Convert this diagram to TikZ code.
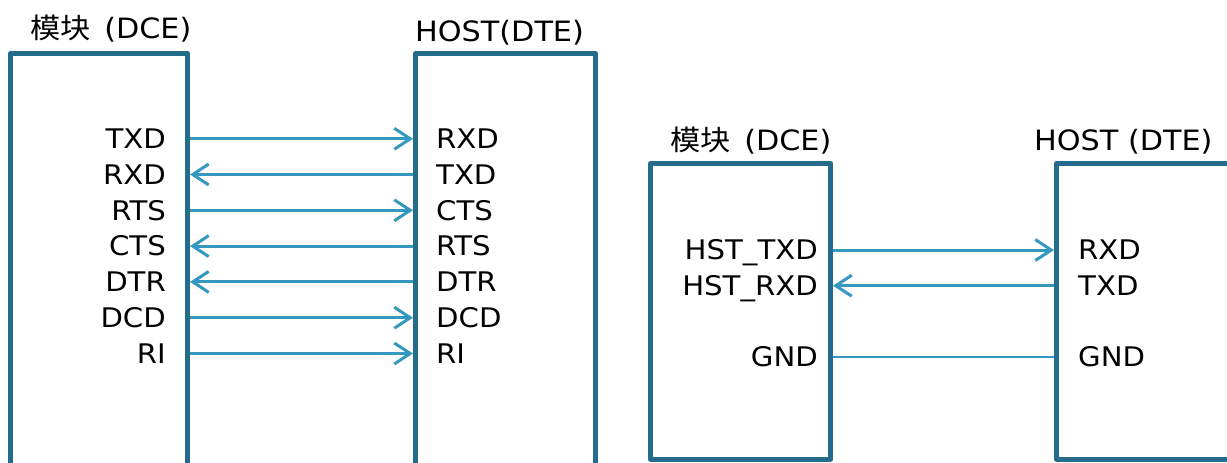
\documentclass[tikz,border=0pt]{standalone}
\usepackage{fontspec}
\setmainfont{DejaVu Sans}[FakeStretch=1.08]
\newfontfamily\cjk{Noto Sans CJK SC}[FakeStretch=1.08]
\usetikzlibrary{arrows.meta}
\definecolor{boxblue}{RGB}{37,107,140}
\definecolor{wireblue}{RGB}{52,152,192}

\begin{document}
\begin{tikzpicture}[x=1pt, y=-1pt, font=\fontsize{27}{32}\selectfont]
	\tikzset{
	  BoxStyle/.style = { draw=boxblue, line width=5pt, line join=round,
	                      minimum width=180pt, inner sep=0pt, anchor=north west },
	  TitleStyle/.style = { inner sep=0pt, anchor=base west,
	                        font=\fontsize{28}{33}\selectfont },
	  PinStyle/.style = { inner sep=0pt, text height=19.5pt, text depth=0pt },
	  LeftPin/.style = { PinStyle, anchor=east },
	  RightPin/.style = { PinStyle, anchor=west },
	  EdgeStyle/.style = { draw=wireblue, line width=3pt,
	                       -{Straight Barb[length=16pt, width=21pt]} } }
	\clip (0,0) rectangle (1227,463);
%	\draw[help lines, step=50] (0,0) grid (1227,463);
	% full handshake
	\node[BoxStyle, minimum width=177pt, minimum height=480pt] (dce) at (8,51) {};
	\node[BoxStyle, minimum height=480pt] (host) at (413,51) {};
	\node[TitleStyle] (dceT) at (30,38) {{\cjk 模块}\hspace{4pt} (DCE)};
	\node[TitleStyle] (hostT) at (415,41) {HOST(DTE)};
	\node[LeftPin] (txdA) at (166,138.8) {TXD};
	\node[LeftPin] (rxdA) at (166,174.5) {RXD};
	\node[LeftPin] (rtsA) at (166,210.3) {RTS};
	\node[LeftPin] (ctsA) at (166,246.1) {CTS};
	\node[LeftPin] (dtrA) at (166,281.9) {DTR};
	\node[LeftPin] (dcdA) at (166,317.7) {DCD};
	\node[LeftPin] (riA)  at (166,353.5) {RI};
	\node[RightPin] (rxdH) at (436,138.8) {RXD};
	\node[RightPin] (txdH) at (436,174.5) {TXD};
	\node[RightPin] (ctsH) at (436,210.3) {CTS};
	\node[RightPin] (rtsH) at (436,246.1) {RTS};
	\node[RightPin] (dtrH) at (436,281.9) {DTR};
	\node[RightPin] (dcdH) at (436,317.7) {DCD};
	\node[RightPin] (riH)  at (436,353.5) {RI};
	\draw[EdgeStyle] (dce.east |- txdA) -- (host.west |- rxdH);
	\draw[EdgeStyle] (host.west |- txdH) -- (dce.east |- rxdA);
	\draw[EdgeStyle] (dce.east |- rtsA) -- (host.west |- ctsH);
	\draw[EdgeStyle] (host.west |- rtsH) -- (dce.east |- ctsA);
	\draw[EdgeStyle] (host.west |- dtrH) -- (dce.east |- dtrA);
	\draw[EdgeStyle] (dce.east |- dcdA) -- (host.west |- dcdH);
	\draw[EdgeStyle] (dce.east |- riA) -- (host.west |- riH);
	% three wire
	\node[BoxStyle, minimum height=295.5pt] (dceB) at (648,161) {};
	\node[BoxStyle, minimum height=295.5pt, minimum width=200pt] (hostB) at (1054,161) {};
	\node[TitleStyle] (dceBT) at (670,150) {{\cjk 模块}\hspace{4pt} (DCE)};
	\node[TitleStyle] (hostBT) at (1034,150) {HOST (DTE)};
	\node[LeftPin] (txdB) at (818,250) {HST\_TXD};
	\node[LeftPin] (rxdB) at (818,285.7) {HST\_RXD};
	\node[LeftPin] (gndB) at (818,356.7) {GND};
	\node[RightPin] (rxdHB) at (1078,250) {RXD};
	\node[RightPin] (txdHB) at (1078,285.7) {TXD};
	\node[RightPin] (gndHB) at (1078,356.7) {GND};
	\draw[EdgeStyle] (dceB.east |- txdB) -- (hostB.west |- rxdHB);
	\draw[EdgeStyle] (hostB.west |- txdHB) -- (dceB.east |- rxdB);
	\draw[EdgeStyle, -, line width=2pt] (dceB.east |- gndB) -- (hostB.west |- gndHB);
\end{tikzpicture}
\end{document}
